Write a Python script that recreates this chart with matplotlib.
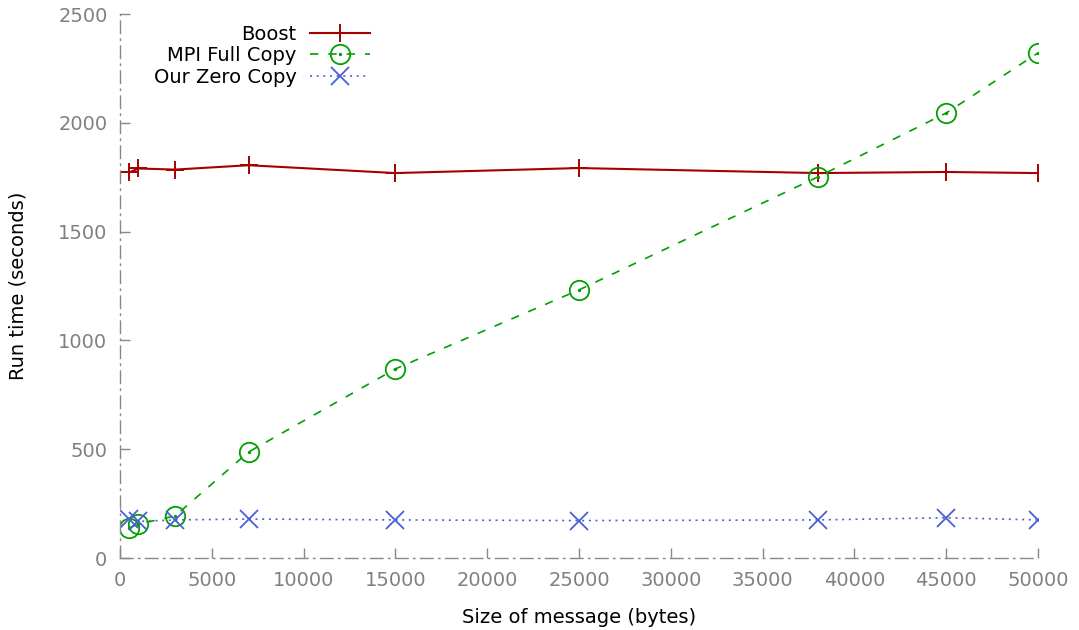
import matplotlib
matplotlib.use("Agg")
import matplotlib.pyplot as plt
from matplotlib.path import Path
import numpy as np

sizes = [500, 1000, 3000, 7000, 15000, 25000, 38000, 45000, 50000]
boost = [1772, 1790, 1785, 1805, 1769, 1792, 1769, 1774, 1769]
mpi_full = [138, 156, 193, 487, 869, 1232, 1751, 2045, 2321]
zero_copy = [179, 168, 175, 179, 175, 172, 175, 185, 175]

xticks = [0, 5000, 10000, 15000, 20000, 25000, 30000, 35000, 40000, 45000, 50000]
yticks = [0, 500, 1000, 1500, 2000, 2500]

plt.rcParams['font.family'] = ['DejaVu Sans']
FS = 14

fig = plt.figure(figsize=(10.79, 6.30), dpi=100)
ax = fig.add_axes([120/1079, 1 - 558/630, (1038-120)/1079, (558-14)/630])

circ = Path.unit_circle()
dot = Path(circ.vertices * 0.08, circ.codes)
odot = Path.make_compound_path(circ, dot)

red = '#a50000'
green = '#00a000'
blue = '#4a5fd6'

ax.plot(sizes, boost, color=red, lw=1.5, marker='+', ms=13, mew=1.4, label='Boost')
ax.plot(sizes, mpi_full, color=green, lw=1.2, ls=(0, (5, 6)), marker=odot, ms=14,
        mew=1.3, fillstyle='none', label='MPI Full Copy')
ax.plot(sizes, zero_copy, color=blue, lw=1.2, ls=(0, (1.2, 2.8)), marker='x', ms=13,
        mew=1.3, label='Our Zero Copy')

ax.set_xlim(0, 50000)
ax.set_ylim(0, 2500)
ax.set_xticks(xticks)
ax.set_yticks(yticks)

for s in ['top', 'right']:
    ax.spines[s].set_visible(False)
for s in ['left', 'bottom']:
    ax.spines[s].set_color('#888888')
    ax.spines[s].set_linestyle((0, (9, 4, 1, 4)))
    ax.spines[s].set_linewidth(1.0)

ax.tick_params(direction='in', length=7, width=1, color='#888888',
               labelcolor='#808080', labelsize=FS, pad=9)

ax.set_xlabel('Size of message (bytes)', fontsize=FS, labelpad=13)
ax.set_ylabel('Run time (seconds)', fontsize=FS, labelpad=22)

leg = ax.legend(loc='upper right', bbox_to_anchor=(264/918, 1.005), markerfirst=False,
                frameon=False, fontsize=FS, handlelength=3.1, borderpad=0.2,
                labelspacing=0.12, handletextpad=0.7)
for vp in leg._legend_handle_box.get_children():
    vp.align = 'right'

fig.savefig('out.png', dpi=100)
